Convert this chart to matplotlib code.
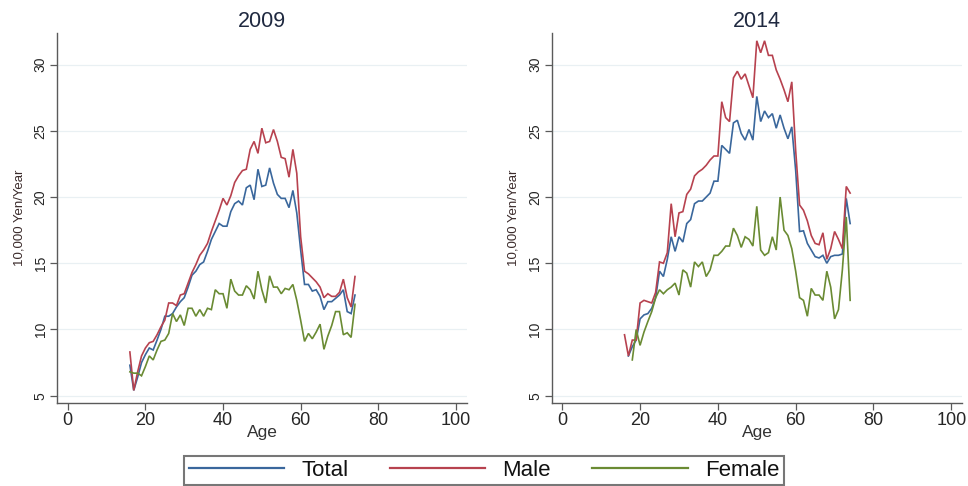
import numpy as np
import matplotlib
matplotlib.use("Agg")
import matplotlib.pyplot as plt
from matplotlib.lines import Line2D

ages = list(range(16, 75))
nan = np.nan

# 2009 (10,000 yen / year)
total_2009 = [7.3, 5.4, 6.4, 7.5, 8.1, 8.6, 8.45, 9.2, 10.0, 11.0,
              11.0, 11.2, 11.7, 12.1, 12.4, 13.2, 14.1, 14.4, 14.9, 15.1,
              15.9, 16.8, 17.4, 18.0, 17.8, 17.8, 18.9, 19.5, 19.7, 19.4,
              20.7, 20.9, 19.8, 22.1, 20.8, 20.9, 22.2, 21.05, 20.2, 19.9,
              19.9, 19.2, 20.5, 18.8, 16.0, 13.4, 13.4, 12.9, 13.0, 12.5,
              11.5, 12.1, 12.1, 12.35, 12.6, 13.0, 11.35, 11.2, 12.6]
male_2009 = [8.3, 5.4, 6.8, 8.0, 8.6, 9.0, 9.1, 9.6, 10.2, 10.7,
             12.0, 12.0, 11.8, 12.6, 12.7, 13.5, 14.3, 14.9, 15.6, 16.0,
             16.5, 17.4, 18.2, 19.0, 19.9, 19.4, 20.1, 21.1, 21.6, 22.0,
             22.1, 23.6, 24.2, 23.3, 25.2, 24.1, 24.2, 25.1, 24.2, 23.0,
             22.9, 21.5, 23.6, 21.8, 17.0, 14.4, 14.2, 13.9, 13.6, 13.2,
             12.4, 12.7, 12.5, 12.5, 12.8, 13.8, 12.4, 11.7, 14.0]
female_2009 = [6.8, 6.7, 6.7, 6.5, 7.2, 8.0, 7.7, 8.45, 9.1, 9.2,
               9.7, 11.2, 10.6, 11.1, 10.3, 11.6, 11.6, 11.0, 11.5, 11.0,
               11.6, 11.5, 13.0, 12.7, 12.7, 11.6, 13.8, 12.9, 12.6, 12.6,
               13.3, 13.0, 12.3, 14.4, 13.0, 12.0, 14.05, 13.2, 13.2, 12.7,
               13.1, 13.0, 13.4, 12.2, 10.7, 9.1, 9.7, 9.3, 9.8, 10.4,
               8.5, 9.5, 10.3, 11.35, 11.35, 9.6, 9.75, 9.4, 11.9]

# 2014 (10,000 yen / year)
total_2014 = [nan, 8.0, 8.7, 9.2, 10.8, 11.1, 11.2, 11.6, 12.4, 14.4,
              14.0, 15.3, 17.0, 15.9, 17.0, 16.6, 18.0, 18.3, 19.5, 19.7,
              19.7, 20.0, 20.3, 21.2, 21.2, 23.9, 23.6, 23.3, 25.6, 25.8,
              24.8, 24.3, 25.1, 24.3, 27.6, 25.7, 26.5, 26.0, 26.3, 25.2,
              26.2, 25.2, 24.4, 25.3, 22.0, 17.4, 17.45, 16.5, 16.0, 15.5,
              15.4, 15.6, 15.0, 15.5, 15.6, 15.6, 15.7, 19.9, 18.0]
male_2014 = [9.6, 8.0, 9.2, 9.2, 12.0, 12.2, 12.1, 12.0, 12.8, 15.1,
             15.0, 15.8, 19.5, 17.0, 18.8, 18.9, 20.2, 20.6, 21.6, 21.9,
             22.1, 22.4, 22.8, 23.1, 23.1, 27.2, 26.0, 25.7, 29.0, 29.5,
             28.9, 29.3, 28.4, 27.5, 31.8, 30.9, 31.8, 30.7, 30.7, 29.6,
             28.9, 28.1, 27.2, 28.7, 23.5, 19.4, 19.0, 18.2, 17.1, 16.5,
             16.4, 17.3, 15.3, 16.1, 17.4, 16.8, 16.1, 20.8, 20.3]
female_2014 = [nan, nan, 7.7, 10.0, 8.8, 9.8, 10.6, 11.35, 12.4, 13.0,
               12.7, 13.0, 13.2, 13.5, 12.6, 14.5, 14.25, 13.2, 15.1, 14.75,
               15.1, 14.0, 14.5, 15.6, 15.6, 15.9, 16.3, 16.3, 17.65, 17.1,
               16.2, 17.0, 16.8, 16.3, 19.3, 16.0, 15.6, 15.8, 17.0, 16.0,
               20.0, 17.5, 17.1, 16.1, 14.4, 12.4, 12.2, 11.0, 13.1, 12.6,
               12.6, 12.2, 14.4, 13.2, 10.8, 11.5, 14.5, 18.5, 12.2]

panel_titles = ["2009", "2014"]
series_names = ["Total", "Male", "Female"]
x_ticks = [0, 20, 40, 60, 80, 100]
y_ticks = [5, 10, 15, 20, 25, 30]
x_label = "Age"
y_label = "10,000 Yen/Year"

colors = ["#3a679c", "#b7424f", "#6a8b33"]
text_color = "#262626"
axis_color = "#5a5a5a"

plt.rcParams["font.family"] = ["Liberation Sans", "DejaVu Sans"]

fig = plt.figure(figsize=(9.68, 4.86), dpi=100)
axes_pos = [[0.0592, 0.1714, 0.423, 0.761], [0.570, 0.1714, 0.424, 0.761]]
data = [[total_2009, male_2009, female_2009], [total_2014, male_2014, female_2014]]

for pos, title, series in zip(axes_pos, panel_titles, data):
    ax = fig.add_axes(pos)
    for vals, c in zip(series, colors):
        ax.plot(ages, vals, color=c, lw=1.2, solid_joinstyle="miter")
    ax.set_xlim(-2.7, 102.8)
    ax.set_ylim(4.47, 32.4)
    ax.set_xticks(x_ticks)
    ax.set_yticks(y_ticks)
    ax.set_yticklabels([str(t) for t in y_ticks], rotation=90, va="center",
                       fontsize=10, color=text_color,
                       family=["Liberation Sans Narrow", "Liberation Sans"])
    ax.set_xticklabels([str(t) for t in x_ticks], fontsize=13, color=text_color)
    ax.tick_params(direction="out", length=5, width=0.9, color=axis_color, pad=2)
    for s in ["top", "right"]:
        ax.spines[s].set_visible(False)
    for s in ["left", "bottom"]:
        ax.spines[s].set_color(axis_color)
        ax.spines[s].set_linewidth(1.0)
    ax.grid(axis="y", color="#e9f0f3", lw=0.9)
    ax.set_axisbelow(True)
    ax.set_title(title, fontsize=15.5, color="#1f2940", pad=4)
    ax.set_xlabel(x_label, fontsize=12.5, color="#333333", labelpad=-3)
    ax.set_ylabel(y_label, fontsize=9.5, color="#3b2b2b", labelpad=6,
                  family=["Liberation Sans Narrow", "Liberation Sans"])

handles = [Line2D([0], [0], color=c, lw=1.6) for c in colors]
leg = fig.legend(handles, series_names, loc="upper center",
                 bbox_to_anchor=(0.5, 1 - 455.5 / 486), ncol=3, fontsize=16,
                 handlelength=4.3, handletextpad=0.77, columnspacing=1.85,
                 borderpad=0.2, borderaxespad=0.0, frameon=True, fancybox=False)
leg.get_frame().set_edgecolor("#555555")
leg.get_frame().set_linewidth(1.5)
for t in leg.get_texts():
    t.set_color("#111111")

fig.savefig("out.png", dpi=100, facecolor="white")
